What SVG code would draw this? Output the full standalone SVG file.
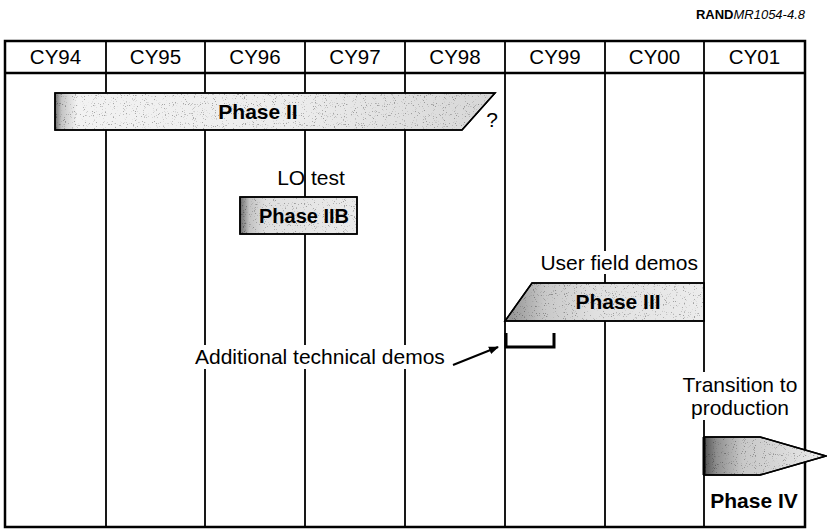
<svg xmlns="http://www.w3.org/2000/svg" width="827" height="529" viewBox="0 0 827 529">
<style>
text{font-family:"Liberation Sans",Arial,sans-serif;fill:#000}
.hdr{font-size:20.5px;text-anchor:middle}
.lbl{font-size:21px}
.bold{font-size:21px;font-weight:bold;text-anchor:middle}
.grid{stroke:#000;stroke-width:1.8;fill:none}
.frame{stroke:#000;stroke-width:2.5;fill:none}
.bar{stroke:#000;stroke-width:1.5}
.tex{fill:#000;stroke:none;filter:url(#stip);opacity:0.3}
.bg{fill:#fff}
</style>
<defs>
<linearGradient id="gII" x1="0" y1="0" x2="1" y2="0">
<stop offset="0" stop-color="#707070"/><stop offset="0.015" stop-color="#c4c4c4"/><stop offset="0.05" stop-color="#f2f2f2"/><stop offset="0.55" stop-color="#ececec"/><stop offset="1" stop-color="#d6d6d6"/>
</linearGradient>
<linearGradient id="gIIB" x1="0" y1="0" x2="1" y2="0">
<stop offset="0" stop-color="#6e6e6e"/><stop offset="0.08" stop-color="#c2c2c2"/><stop offset="0.22" stop-color="#e0e0e0"/><stop offset="1" stop-color="#ebebeb"/>
</linearGradient>
<linearGradient id="gIII" x1="0" y1="0" x2="1" y2="0">
<stop offset="0" stop-color="#8e8e8e"/><stop offset="0.2" stop-color="#c8c8c8"/><stop offset="0.45" stop-color="#e0e0e0"/><stop offset="1" stop-color="#ececec"/>
</linearGradient>
<linearGradient id="gIV" x1="0" y1="0" x2="1" y2="0">
<stop offset="0" stop-color="#505050"/><stop offset="0.1" stop-color="#8e8e8e"/><stop offset="0.32" stop-color="#c8c8c8"/><stop offset="1" stop-color="#ececec"/>
</linearGradient>
<filter id="stip" x="0" y="0" width="1" height="1">
<feTurbulence type="fractalNoise" baseFrequency="0.9" numOctaves="1" seed="7" result="n"/>
<feColorMatrix in="n" type="matrix" values="0 0 0 0 0  0 0 0 0 0  0 0 0 0 0  10 0 0 0 -6.2" result="d"/>
<feComposite in="d" in2="SourceAlpha" operator="in"/>
</filter>
<marker id="ah" viewBox="0 0 10 10" refX="9" refY="5" markerWidth="10" markerHeight="10" markerUnits="userSpaceOnUse" orient="auto">
<path d="M0,1 L10,5 L0,9 Z" fill="#000"/>
</marker>
</defs>
<rect width="827" height="529" fill="#fff"/>

<g id="source">
<text x="805" y="19" font-size="13" text-anchor="end"><tspan font-weight="bold">RAND</tspan><tspan font-style="italic">MR1054-4.8</tspan></text>
</g>

<g id="grid">
<path class="grid" d="M106,41V527M205,41V527M305,41V527M405,41V527M505,41V527M605,41V527M704,41V527"/>
<path class="frame" d="M5,41H805V527H5Z M5,73H805"/>
<text class="hdr" x="55.5" y="64">CY94</text>
<text class="hdr" x="155.5" y="64">CY95</text>
<text class="hdr" x="255" y="64">CY96</text>
<text class="hdr" x="355" y="64">CY97</text>
<text class="hdr" x="455" y="64">CY98</text>
<text class="hdr" x="555" y="64">CY99</text>
<text class="hdr" x="654.5" y="64">CY00</text>
<text class="hdr" x="754.5" y="64">CY01</text>
</g>

<g id="phase2">
<path class="bar" fill="url(#gII)" d="M55,93H495L462,130H55Z"/>
<path class="tex" d="M55,93H495L462,130H55Z"/>
<path class="bar" fill="none" d="M55,93H495L462,130H55Z"/>
<text class="bold" x="258" y="119">Phase II</text>
<text class="lbl" x="492" y="127" text-anchor="middle">?</text>
</g>

<g id="phase2b">
<text class="lbl" x="311" y="185" text-anchor="middle">LO test</text>
<rect class="bar" fill="url(#gIIB)" x="240" y="197" width="117" height="37"/>
<rect class="tex" x="240" y="197" width="117" height="37"/>
<rect class="bar" fill="none" x="240" y="197" width="117" height="37"/>
<text class="bold" x="304" y="223" style="font-size:20px">Phase IIB</text>
</g>

<g id="phase3">
<rect class="bg" x="536" y="251" width="164" height="23"/>
<text class="lbl" x="698" y="270" text-anchor="end">User field demos</text>
<path class="bar" fill="url(#gIII)" d="M532,283H704V321H505Z"/>
<path class="tex" d="M532,283H704V321H505Z"/>
<path class="bar" fill="none" d="M532,283H704V321H505Z"/>
<text class="bold" x="618" y="309">Phase III</text>
</g>

<g id="tech-demos">
<rect class="bg" x="192" y="345" width="256" height="24"/>
<text class="lbl" x="195" y="364">Additional technical demos</text>
<path d="M506,333V347H554V333" fill="none" stroke="#000" stroke-width="3"/>
</g>

<g id="phase4">
<rect class="bg" x="680" y="372" width="120" height="48"/>
<text class="lbl" x="740" y="392" text-anchor="middle">Transition to</text>
<text class="lbl" x="740" y="415" text-anchor="middle">production</text>
<path class="bar" fill="url(#gIV)" d="M704,437H760L826,456L760,475H704Z"/>
<path class="tex" d="M704,437H760L826,456L760,475H704Z"/>
<path class="bar" fill="none" d="M704,437H760L826,456L760,475H704Z"/>
<path d="M704,437V475" stroke="#000" stroke-width="3"/>
<text class="bold" x="754" y="508">Phase IV</text>
</g>

<g id="connectors">
<path d="M453,365L498,347" stroke="#000" stroke-width="2" fill="none" marker-end="url(#ah)"/>
</g>
</svg>
